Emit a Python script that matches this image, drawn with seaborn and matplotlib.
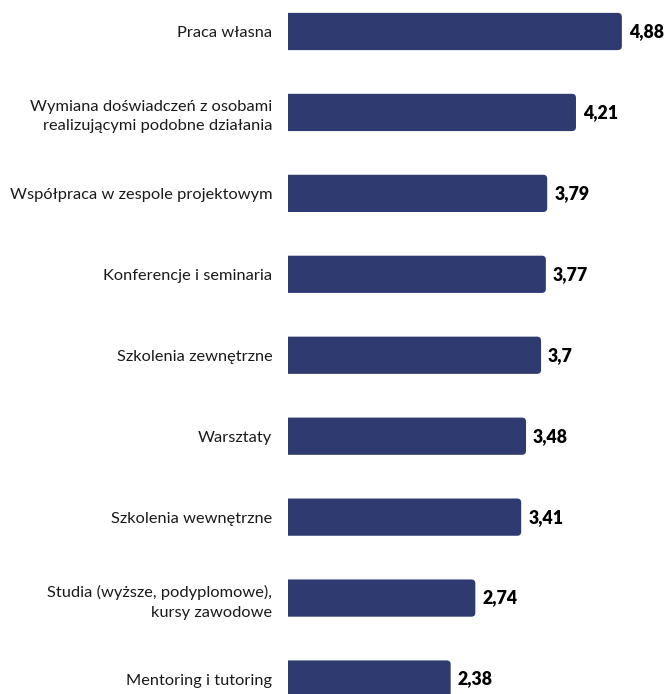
import matplotlib
matplotlib.use("Agg")
import matplotlib.pyplot as plt
from matplotlib.patches import FancyBboxPatch
import seaborn as sns
import pandas as pd

categories = [
    "Praca własna",
    "Wymiana doświadczeń z osobami\nrealizującymi podobne działania",
    "Współpraca w zespole projektowym",
    "Konferencje i seminaria",
    "Szkolenia zewnętrzne",
    "Warsztaty",
    "Szkolenia wewnętrzne",
    "Studia (wyższe, podyplomowe),\nkursy zawodowe",
    "Mentoring i tutoring",
]
values = [4.88, 4.21, 3.79, 3.77, 3.70, 3.48, 3.41, 2.74, 2.38]
value_labels = ["4,88", "4,21", "3,79", "3,77", "3,7", "3,48", "3,41", "2,74", "2,38"]

df = pd.DataFrame({"forma": categories, "ocena": values})

BAR_COLOR = "#2E3A70"

sns.set_theme(style="white")
plt.rcParams["font.family"] = ["Lato", "DejaVu Sans"]

fig = plt.figure(figsize=(6.65, 6.94), dpi=100)
ax = fig.add_axes([287.7 / 665, 0.0, 1 - 287.7 / 665, 1.0])

sns.barplot(data=df, x="ocena", y="forma", color=BAR_COLOR, width=0.46,
            saturation=1, ax=ax, edgecolor="none")

ax.set_xlim(0, 5.51)
ax.set_ylim(8.185, -0.389)

# swap the plain rectangles for ones with softly rounded right corners;
# the left corners fall outside the axes and are clipped square
px_x = 68.5   # pixels per x unit
px_y = 80.9   # pixels per category step
radius_px = 4.0
for bar in list(ax.patches):
    x0, y0 = bar.get_x(), bar.get_y()
    w, h = bar.get_width(), bar.get_height()
    bar.remove()
    fancy = FancyBboxPatch(
        (x0 - 0.2, y0), w + 0.2, h,
        boxstyle=f"round,pad=0,rounding_size={radius_px / px_x}",
        mutation_aspect=px_x / px_y,
        facecolor=BAR_COLOR, edgecolor="none",
        transform=ax.transData, clip_on=True,
    )
    ax.add_patch(fancy)
    fancy.set_clip_path(ax.patch)

ax.set_xlabel("")
ax.set_ylabel("")
ax.set_xticks([])
ax.tick_params(axis="y", length=0, pad=11, labelsize=11.8, labelcolor="#1a1a1a")
for t in ax.get_yticklabels():
    t.set_linespacing(1.5)
for s in ax.spines.values():
    s.set_visible(False)

for i, (v, lab) in enumerate(zip(values, value_labels)):
    ax.annotate(lab, xy=(v, i), xytext=(5, 0), textcoords="offset points",
                ha="left", va="center", fontsize=12.8, fontweight="heavy", color="black")

fig.savefig("out.png", dpi=100)
